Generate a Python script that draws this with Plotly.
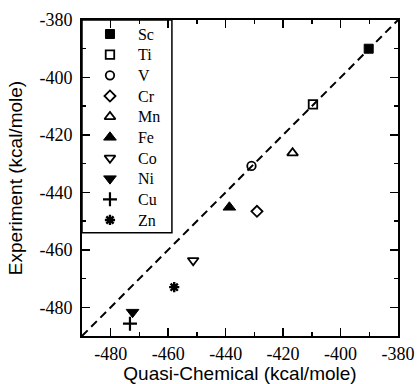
import plotly.graph_objects as go

elements = ["Sc", "Ti", "V", "Cr", "Mn", "Fe", "Co", "Ni", "Cu", "Zn"]
quasi_chemical = [-390.2, -409.6, -431.0, -429.1, -416.7, -438.7, -451.3, -472.4, -473.3, -457.9]
experiment = [-390.0, -409.4, -430.8, -446.6, -426.3, -445.2, -463.7, -481.7, -485.7, -473.0]
symbols = ["square", "square-open", "circle-open", "diamond-open", "triangle-up-open",
           "triangle-up", "triangle-down-open", "triangle-down", "cross-thin-open", "asterisk-open"]
tick_values = [-480, -460, -440, -420, -400, -380]
tick_labels = ["-480", "-460", "-440", "-420", "-400", "-380"]
line_range = [-490, -380]

def marker_style(sym):
    if sym == "square":
        return 9, 1
    if sym.startswith("cross"):
        return 10, 2.2
    if sym.startswith("asterisk"):
        return 8.5, 2.4
    if sym in ("triangle-up", "triangle-down"):
        return 11, 1
    if sym.startswith("triangle"):
        return 9.5, 1.8
    if sym.startswith("diamond"):
        return 8.5, 1.8
    return 8.5, 1.8

fig = go.Figure()
fig.add_trace(go.Scatter(x=line_range, y=line_range, mode="lines",
                         line=dict(color="black", width=2, dash="8px,5px"),
                         showlegend=False, hoverinfo="skip"))
for el, xv, yv, sym in zip(elements, quasi_chemical, experiment, symbols):
    size, lw = marker_style(sym)
    fig.add_trace(go.Scatter(x=[xv], y=[yv], mode="markers", name=el, showlegend=False,
                             marker=dict(symbol=sym, size=size, color="black",
                                         line=dict(color="black", width=lw))))

# legend drawn as a small categorical subplot
for el, sym in zip(elements, symbols):
    size, lw = marker_style(sym)
    fig.add_trace(go.Scatter(x=[0], y=[el], mode="markers", xaxis="x2", yaxis="y2",
                             showlegend=False, hoverinfo="skip",
                             marker=dict(symbol=sym, size=size, color="black",
                                         line=dict(color="black", width=lw))))

axis_common = dict(
    showgrid=False, zeroline=False, showline=True, linecolor="black", linewidth=2,
    mirror="ticks", ticks="inside", ticklen=8, tickwidth=1.5, tickcolor="black",
    tickvals=tick_values, ticktext=tick_labels, range=line_range, automargin=False,
    tickfont=dict(family="Liberation Serif", size=18, color="black"),
    minor=dict(ticks="inside", ticklen=4, tickwidth=1.5, dtick=10, tick0=-490, tickcolor="black"),
)
fig.update_layout(
    xaxis=dict(**axis_common, domain=[0, 1],
               title=dict(text="Quasi-Chemical (kcal/mole)", standoff=4,
                          font=dict(family="Liberation Sans", size=19, color="black"))),
    yaxis=dict(**axis_common, domain=[0, 1], ticklabelstandoff=4,
               title=dict(text="Experiment (kcal/mole)", standoff=12,
                          font=dict(family="Liberation Sans", size=19, color="black"))),
    xaxis2=dict(domain=[0.06, 0.117], range=[-1, 1], anchor="y2", visible=False,
                fixedrange=True, automargin=False),
    yaxis2=dict(domain=[0.3345, 0.9883], anchor="x2", side="right", type="category",
                categoryorder="array", categoryarray=elements, range=[9.5, -0.5],
                showgrid=False, zeroline=False, showline=False, ticks="",
                ticklabelstandoff=18, fixedrange=True, automargin=False,
                tickfont=dict(family="Liberation Serif", size=16, color="black")),
)
fig.add_shape(type="rect", xref="x", yref="y", x0=-490, x1=-458.7, y0=-454.1, y1=-380,
              line=dict(color="black", width=1.5), fillcolor="rgba(0,0,0,0)", layer="above")

fig.update_layout(
    width=417, height=384,
    margin=dict(l=82, r=19, t=20, b=48, autoexpand=False),
    plot_bgcolor="rgba(0,0,0,0)", paper_bgcolor="white",
    showlegend=False,
)
fig.write_html("out.html", config={"displayModeBar": False, "staticPlot": True},
               post_script="document.body.style.margin='0';document.body.style.overflow='hidden';")
